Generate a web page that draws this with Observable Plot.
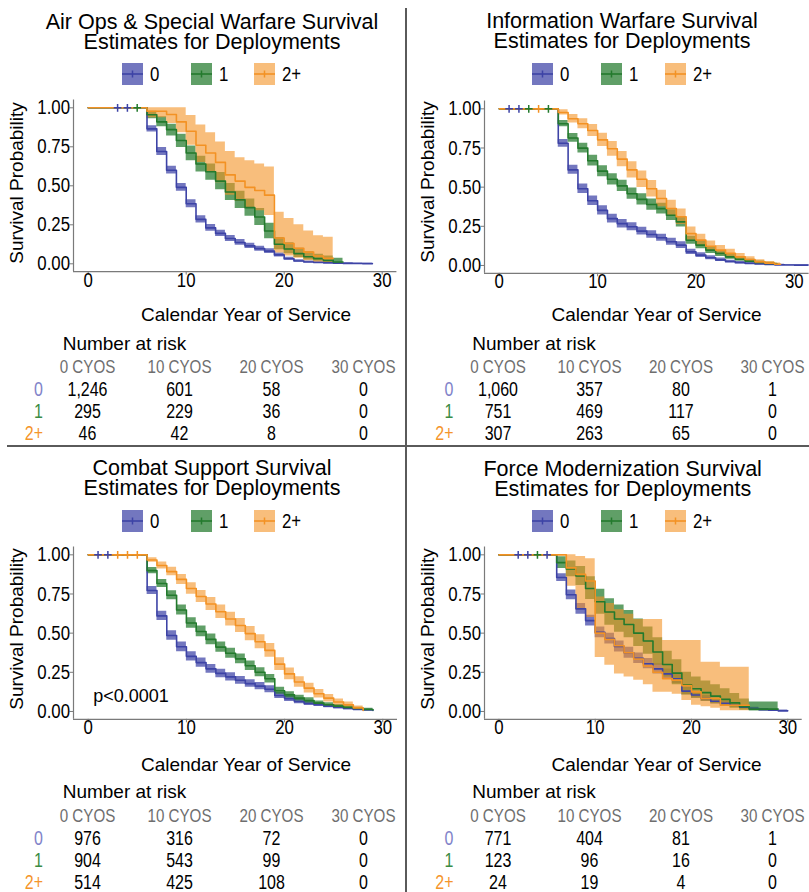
<!DOCTYPE html>
<html><head><meta charset="utf-8">
<script src="https://cdn.jsdelivr.net/npm/d3@7"></script>
<script src="https://cdn.jsdelivr.net/npm/@observablehq/plot@0.6"></script>
<style>
body{margin:0;background:#fff;}
#fig{position:relative;width:809px;height:892px;overflow:hidden;font-family:'Liberation Sans',Arial,sans-serif;color:#000;}
.panel{position:absolute;}
.panel svg{position:absolute;left:0;}
.title{position:absolute;width:400px;text-align:center;font-size:21.5px;line-height:20px;white-space:nowrap;}
.sw{position:absolute;top:63px;width:21px;height:22px;}
.lg{position:absolute;top:63px;height:22px;line-height:22px;font-size:20.5px;}
.lg span{display:inline-block;transform:scaleX(0.82);transform-origin:left center;}
.ylab{position:absolute;font-size:19px;line-height:19px;white-space:nowrap;transform:translate(-50%,-50%) rotate(-90deg);}
.xlab{position:absolute;font-size:19px;line-height:19px;white-space:nowrap;transform:translateX(-50%);}
.nar{position:absolute;font-size:19px;line-height:19px;white-space:nowrap;}
.sep{position:absolute;background:#5a5a5a;}
</style>
</head><body>
<div id="fig"></div>
<script>
// ---------- shared categories, ticks, colours ----------
const groups = ["0", "1", "2+"];
const lineColors = ["#3D43A6", "#237A2D", "#F39224"];
const labelColors = ["#8183C9", "#3B8C44", "#F5952B"];
const bandOpacity = [0.72, 0.72, 0.6];
const xTicks = [0, 10, 20, 30];
const yTicks = [0, 0.25, 0.5, 0.75, 1];
const riskTimes = [0, 10, 20, 30];

// ---------- survival curves: [year, survival, lower CI, upper CI] ----------
// Air Ops & Special Warfare
const airOps0 = [[0,1,1,1],[6,.865,.845,.885],[7,.72,.695,.745],[8,.60,.575,.625],[9,.49,.465,.515],[10,.385,.36,.41],[11,.285,.262,.308],[12,.23,.208,.252],[13,.195,.175,.215],[14,.162,.143,.181],[15,.137,.119,.155],[16,.115,.098,.132],[17,.097,.081,.113],[18,.081,.066,.096],[19,.057,.044,.07],[20,.032,.022,.042],[21,.018,.011,.026],[22,.012,.006,.018],[23,.008,.004,.013],[24,.006,.002,.01],[25,.004,.001,.008],[26,.003,.001,.006],[27,.002,0,.005],[28,.001,0,.004],[29,.001,0,.003]];
const airOps1 = [[0,1,1,1],[6,.955,.93,.978],[7,.91,.878,.942],[8,.86,.82,.895],[9,.79,.745,.83],[10,.71,.66,.755],[11,.64,.588,.69],[12,.59,.535,.64],[13,.53,.475,.585],[14,.46,.405,.515],[15,.41,.355,.465],[16,.36,.305,.415],[17,.30,.245,.355],[18,.21,.16,.26],[19,.125,.09,.168],[20,.095,.065,.135],[21,.065,.04,.10],[22,.045,.025,.078],[23,.033,.016,.062],[24,.022,.009,.05],[25,.012,.004,.035],[26,.012,.004,.035]];
const airOps2 = [[0,1,1,1],[6,.978,.937,1],[8,.957,.90,1],[9,.91,.84,1],[10,.85,.76,.95],[11,.76,.65,.89],[12,.71,.59,.84],[13,.65,.52,.78],[14,.57,.44,.72],[15,.53,.40,.68],[16,.49,.36,.66],[17,.47,.34,.64],[18,.44,.31,.62],[19,.165,.07,.33],[20,.13,.05,.29],[21,.10,.035,.25],[22,.075,.02,.21],[23,.05,.01,.18],[24,.035,.005,.17],[25,.035,.005,.17]];
// Information Warfare
const info0 = [[0,1,1,1],[6,.78,.755,.805],[7,.61,.582,.64],[8,.49,.46,.52],[9,.413,.383,.443],[10,.352,.323,.381],[11,.299,.271,.327],[12,.267,.24,.294],[13,.247,.221,.273],[14,.219,.194,.244],[15,.198,.174,.222],[16,.177,.154,.20],[17,.151,.129,.173],[18,.13,.109,.151],[19,.087,.07,.104],[20,.066,.051,.081],[21,.049,.036,.062],[22,.036,.025,.047],[23,.025,.016,.034],[24,.018,.011,.026],[25,.013,.007,.02],[26,.009,.004,.015],[27,.006,.002,.011],[28,.004,.001,.008],[29,.003,.001,.006],[30,.002,0,.005],[31.5,.002,0,.005]];
const info1 = [[0,1,1,1],[6,.905,.885,.925],[7,.814,.786,.842],[8,.749,.718,.78],[9,.669,.635,.703],[10,.602,.567,.637],[11,.55,.514,.586],[12,.508,.472,.544],[13,.458,.422,.494],[14,.422,.386,.458],[15,.389,.353,.425],[16,.363,.328,.398],[17,.321,.287,.355],[18,.278,.245,.311],[19,.161,.135,.187],[20,.13,.106,.154],[21,.098,.077,.119],[22,.077,.058,.096],[23,.055,.039,.071],[24,.04,.027,.053],[25,.028,.017,.039],[26,.019,.01,.028],[27,.013,.006,.02],[28,.008,.003,.014],[28.3,.008,.003,.014]];
const info2 = [[0,1,1,1],[6,.977,.96,.994],[7,.937,.91,.964],[8,.905,.873,.937],[9,.862,.824,.90],[10,.802,.76,.844],[11,.745,.698,.792],[12,.679,.63,.728],[13,.61,.558,.662],[14,.55,.497,.603],[15,.49,.437,.543],[16,.428,.375,.481],[17,.364,.312,.416],[18,.311,.261,.361],[19,.203,.161,.245],[20,.162,.124,.20],[21,.123,.09,.156],[22,.098,.068,.128],[23,.077,.051,.103],[24,.055,.033,.077],[25,.038,.02,.056],[26,.023,.01,.036],[27,.015,.005,.025],[28,.008,.002,.016],[28.6,.008,.002,.016]];
// Combat Support
const combat0 = [[0,1,1,1],[6,.772,.746,.798],[7,.61,.58,.64],[8,.485,.454,.516],[9,.413,.382,.444],[10,.352,.322,.382],[11,.312,.283,.341],[12,.272,.244,.30],[13,.243,.216,.27],[14,.221,.195,.247],[15,.199,.174,.224],[16,.178,.154,.202],[17,.162,.139,.185],[18,.142,.12,.164],[19,.102,.083,.121],[20,.081,.064,.098],[21,.064,.049,.079],[22,.051,.038,.064],[23,.043,.031,.055],[24,.034,.023,.045],[25,.026,.017,.035],[26,.019,.011,.027],[27,.013,.007,.02],[28,.009,.004,.015],[29,.006,.002,.011]];
const combat1 = [[0,1,1,1],[6,.899,.879,.919],[7,.817,.791,.843],[8,.742,.713,.771],[9,.648,.616,.68],[10,.565,.532,.598],[11,.511,.477,.545],[12,.46,.426,.494],[13,.411,.378,.444],[14,.372,.34,.404],[15,.336,.305,.367],[16,.292,.262,.322],[17,.25,.221,.279],[18,.209,.182,.236],[19,.132,.11,.154],[20,.106,.086,.126],[21,.085,.067,.103],[22,.07,.053,.087],[23,.053,.039,.067],[24,.043,.03,.056],[25,.034,.023,.045],[26,.026,.016,.036],[27,.019,.011,.027],[28,.013,.006,.02],[29,.01,.004,.016]];
const combat2 = [[0,1,1,1],[6,.967,.952,.982],[7,.932,.91,.954],[8,.893,.866,.92],[9,.843,.811,.875],[10,.785,.749,.821],[11,.734,.695,.773],[12,.686,.645,.727],[13,.637,.594,.68],[14,.59,.546,.634],[15,.549,.504,.594],[16,.497,.452,.542],[17,.445,.40,.49],[18,.39,.346,.434],[19,.302,.261,.343],[20,.24,.202,.278],[21,.188,.154,.222],[22,.149,.118,.18],[23,.113,.086,.14],[24,.085,.061,.109],[25,.06,.04,.08],[26,.043,.026,.06],[27,.023,.011,.035],[28,.006,.001,.014]];
// Force Modernization
const force0 = [[0,1,1,1],[6,.855,.83,.88],[7,.745,.714,.776],[8,.655,.621,.689],[9,.58,.545,.615],[10,.505,.47,.54],[11,.465,.43,.50],[12,.415,.38,.45],[13,.375,.34,.41],[14,.34,.306,.374],[15,.305,.272,.338],[16,.272,.24,.304],[17,.24,.209,.271],[18,.208,.179,.237],[19,.13,.107,.153],[20,.105,.084,.126],[21,.083,.064,.102],[22,.065,.048,.082],[23,.052,.037,.067],[24,.04,.027,.053],[25,.028,.017,.039],[26,.018,.01,.027],[27,.012,.005,.019],[28,.008,.003,.014],[29,.004,.001,.009],[30,.004,.001,.009]];
const force1 = [[0,1,1,1],[6,.95,.912,.988],[7,.91,.86,.96],[8,.865,.805,.925],[9,.785,.715,.86],[10,.70,.62,.78],[11,.635,.55,.72],[12,.59,.505,.68],[13,.555,.47,.645],[14,.50,.415,.59],[15,.45,.365,.54],[16,.38,.295,.47],[17,.30,.22,.385],[18,.245,.17,.33],[19,.17,.105,.25],[20,.145,.085,.22],[21,.12,.065,.195],[22,.098,.05,.17],[23,.077,.035,.145],[24,.055,.02,.115],[25,.03,.008,.08],[26,.015,.003,.06],[29,.015,.003,.06]];
const force2 = [[0,1,1,1],[7,.917,.80,1],[8,.875,.65,.99],[9,.833,.60,.975],[10,.50,.345,.73],[11,.46,.295,.69],[12,.42,.24,.65],[13,.375,.22,.62],[14,.335,.20,.587],[15,.29,.17,.587],[16,.25,.123,.587],[17,.21,.123,.453],[18,.20,.11,.453],[19,.165,.07,.453],[20,.125,.04,.453],[21,.083,.03,.315],[22,.083,.02,.315],[23,.04,.005,.283],[26,.04,.005,.283]];

// ---------- censor marks: [year, group] ----------
const airOpsCensor = [[3,"0"],[4,"0"],[5,"1"]];
const infoCensor = [[1,"0"],[2,"0"],[3,"1"],[4,"2+"],[5,"1"]];
const combatCensor = [[1,"0"],[2,"0"],[3,"2+"],[4,"2+"],[5,"2+"]];
const forceCensor = [[2,"0"],[3,"0"],[4,"1"],[5,"0"]];

// ---------- number at risk at 0/10/20/30 CYOS ----------
const airOpsRisk0 = [1246, 601, 58, 0], airOpsRisk1 = [295, 229, 36, 0], airOpsRisk2 = [46, 42, 8, 0];
const infoRisk0 = [1060, 357, 80, 1], infoRisk1 = [751, 469, 117, 0], infoRisk2 = [307, 263, 65, 0];
const combatRisk0 = [976, 316, 72, 0], combatRisk1 = [904, 543, 99, 0], combatRisk2 = [514, 425, 108, 0];
const forceRisk0 = [771, 404, 81, 1], forceRisk1 = [123, 96, 16, 0], forceRisk2 = [24, 19, 4, 0];

const combatPval = {x: 0.5, y: 0.1, text: "p<0.0001"};

const titles = [
  ["Air Ops & Special Warfare Survival", "Estimates for Deployments"],
  ["Information Warfare Survival", "Estimates for Deployments"],
  ["Combat Support Survival", "Estimates for Deployments"],
  ["Force Modernization Survival", "Estimates for Deployments"]
];

// ---------- layout ----------
const SANS = "'Liberation Sans',Arial,sans-serif";
const NARROW_K = 0.82;
const axisGray = "#7a7a7a";
const xDomain = [-1.5, 31.5], yDomain = [-0.05, 1.05];

const panels = [
  {left:0, top:0, w:404, title:titles[0], titleTop:11.8, titleCx:212, legX:[122,191,254],
   ml:73, mr:7.6, mt:11.5, mb:28.9, ylab:[16,183], xlab:[246,304.6], nar:[62.7,333.9], tTop:330, tml:87, tmr:41,
   curves:[airOps0, airOps1, airOps2], censor:airOpsCensor, risk:[airOpsRisk0, airOpsRisk1, airOpsRisk2]},
  {left:404, top:0, w:405, title:titles[1], titleTop:10.8, titleCx:218, legX:[128,197,261],
   ml:80, mr:0.4, mt:12.5, mb:27.2, ylab:[22.5,182], xlab:[252.5,304.6], nar:[68.3,333.9], tTop:330, tml:93.5, tmr:37,
   curves:[info0, info1, info2], censor:infoCensor, risk:[infoRisk0, infoRisk1, infoRisk2]},
  {left:0, top:447, w:404, title:titles[2], titleTop:10.6, titleCx:212, legX:[122,191,254],
   ml:73, mr:7, mt:11.5, mb:28.2, ylab:[16,182], xlab:[246,307.6], nar:[62.7,335.2], tTop:332, tml:87, tmr:41,
   curves:[combat0, combat1, combat2], censor:combatCensor, risk:[combatRisk0, combatRisk1, combatRisk2], pval:combatPval},
  {left:404, top:447, w:405, title:titles[3], titleTop:11.5, titleCx:218.7, legX:[128,197,261],
   ml:80, mr:7.3, mt:11.5, mb:28.2, ylab:[22.5,182], xlab:[252.5,307.6], nar:[68.3,335.2], tTop:332, tml:93.5, tmr:37,
   curves:[force0, force1, force2], censor:forceCensor, risk:[forceRisk0, forceRisk1, forceRisk2]}
];

const fig = document.getElementById("fig");

function el(tag, cls, parent, style, text) {
  const e = document.createElement(tag);
  if (cls) e.className = cls;
  Object.assign(e.style, style || {});
  if (text != null) e.textContent = text;
  parent.appendChild(e);
  return e;
}

// condense SVG texts horizontally (the reference uses a narrow face)
function narrow(svg, skip) {
  svg.querySelectorAll("text").forEach(t => {
    if (skip && skip(t)) return;
    let tr = t.getAttribute("transform");
    if (!tr) {
      const x = +t.getAttribute("x") || 0, y = +t.getAttribute("y") || 0;
      t.removeAttribute("x"); t.removeAttribute("y");
      tr = `translate(${x},${y})`;
    }
    t.setAttribute("transform", tr + ` scale(${NARROW_K},1)`);
  });
  return svg;
}

function chartFor(cfg) {
  const rows = cfg.curves.flatMap((c, i) => c.map(([t, s, lo, hi]) => ({t, s, lo, hi, g: groups[i]})));
  const cens = cfg.censor.map(([t, g]) => ({t, s: 1, g}));
  const marks = [
    Plot.ruleY([yDomain[0]], {stroke: axisGray, strokeWidth: 1.2}),
    Plot.ruleX([xDomain[0]], {stroke: axisGray, strokeWidth: 1.2}),
    ...groups.map((g, i) => Plot.areaY(rows.filter(d => d.g === g), {x: "t", y1: "lo", y2: "hi", fill: "g",
      fillOpacity: bandOpacity[i], curve: "step-after", clip: true})),
    Plot.line(rows, {x: "t", y: "s", z: "g", stroke: "g", strokeWidth: 1.6, curve: "step-after", clip: true}),
    Plot.dot(cens, {x: "t", y: "s", stroke: "g", symbol: "plus", r: 2.6, strokeWidth: 1.5}),
    Plot.axisX({ticks: xTicks, tickSize: 3.5, tickPadding: -3, stroke: axisGray, fill: "black", fontSize: 20.5, label: null}),
    Plot.axisY({ticks: yTicks, tickFormat: d3.format(".2f"), tickSize: 3.5, tickPadding: 0, stroke: axisGray, fill: "black", fontSize: 20.5, label: null})
  ];
  if (cfg.pval) marks.push(Plot.text([cfg.pval], {x: "x", y: "y", text: "text", textAnchor: "start",
    fontSize: 18, fill: "black"}));
  const svg = Plot.plot({
    width: cfg.w, height: 212,
    marginLeft: cfg.ml, marginRight: cfg.mr, marginTop: cfg.mt, marginBottom: cfg.mb,
    x: {domain: xDomain}, y: {domain: yDomain},
    color: {domain: groups, range: lineColors},
    style: {fontFamily: SANS, background: "transparent", overflow: "visible"},
    marks
  });
  return narrow(svg, t => t.textContent.startsWith("p<"));
}

function tableFor(cfg) {
  const cells = cfg.risk.flatMap((r, i) => r.map((n, j) => ({t: riskTimes[j], g: groups[i], n})));
  const svg = Plot.plot({
    width: cfg.w, height: 114,
    marginLeft: cfg.tml, marginRight: cfg.tmr, marginTop: 0, marginBottom: 0,
    x: {domain: [0, 30], axis: null},
    y: {type: "point", domain: ["hdr", ...groups], range: [36, 103], padding: 0, axis: null},
    color: {domain: groups, range: labelColors},
    style: {fontFamily: SANS, background: "transparent", overflow: "visible"},
    marks: [
      Plot.text(riskTimes, {x: d => d, y: () => "hdr", text: d => `${d} CYOS`, fill: "#6e6e6e", fontSize: 18.5}),
      Plot.text(cells, {x: "t", y: "g", text: d => d3.format(",")(d.n), fill: "black", fontSize: 19.5}),
      Plot.text(groups, {y: d => d, text: d => d, fill: d => d, frameAnchor: "left", textAnchor: "end", dx: -44.5, fontSize: 19.5})
    ]
  });
  return narrow(svg);
}

panels.forEach(cfg => {
  const p = el("div", "panel", fig, {left: cfg.left + "px", top: cfg.top + "px", width: cfg.w + "px", height: "445px"});
  el("div", "title", p, {left: (cfg.titleCx - 200) + "px", top: cfg.titleTop + "px"}, cfg.title[0]);
  el("div", "title", p, {left: (cfg.titleCx - 200) + "px", top: (cfg.titleTop + 20) + "px"}, cfg.title[1]);
  // legend
  groups.forEach((g, i) => {
    const sw = el("div", "sw", p, {left: cfg.legX[i] + "px"});
    sw.innerHTML = `<svg width="21" height="22" style="position:absolute;left:0;top:0">
      <rect x="0" y="0" width="21" height="22" fill="${lineColors[i]}" fill-opacity="${bandOpacity[i]}"/>
      <line x1="0" x2="21" y1="11" y2="11" stroke="${lineColors[i]}" stroke-width="1.6"/>
      <line x1="10.5" x2="10.5" y1="7.5" y2="14.5" stroke="${lineColors[i]}" stroke-width="1.5"/></svg>`;
    const lg = el("div", "lg", p, {left: (cfg.legX[i] + 28) + "px"});
    el("span", null, lg, {}, g);
  });
  const ch = chartFor(cfg);
  ch.style.top = "88px";
  p.appendChild(ch);
  el("div", "ylab", p, {left: cfg.ylab[0] + "px", top: cfg.ylab[1] + "px"}, "Survival Probability");
  el("div", "xlab", p, {left: cfg.xlab[0] + "px", top: cfg.xlab[1] + "px"}, "Calendar Year of Service");
  el("div", "nar", p, {left: cfg.nar[0] + "px", top: cfg.nar[1] + "px"}, "Number at risk");
  const tb = tableFor(cfg);
  tb.style.top = cfg.tTop + "px";
  p.appendChild(tb);
});

// separators
el("div", "sep", fig, {left: "405px", top: "8px", width: "2px", height: "884px"});
el("div", "sep", fig, {left: "7px", top: "445px", width: "802px", height: "2px"});
</script>
</body></html>
